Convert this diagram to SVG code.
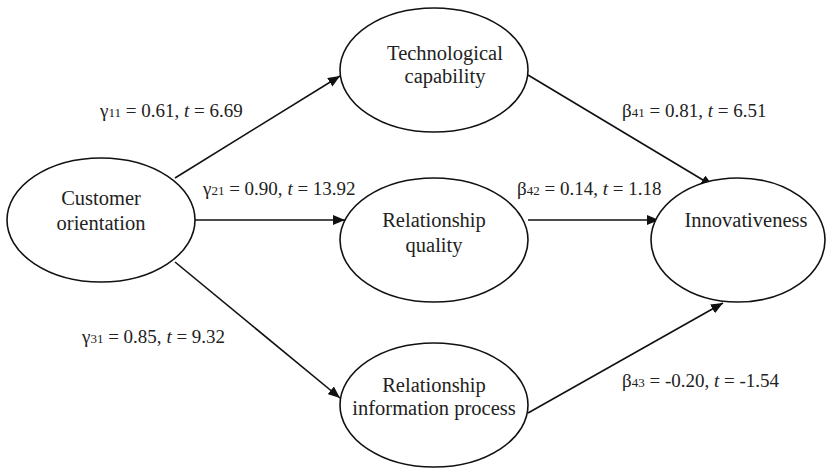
<svg xmlns="http://www.w3.org/2000/svg" width="831" height="470" viewBox="0 0 831 470">
<defs>
<style>
.n{fill:#fff;stroke:#111;stroke-width:1.6}
.t{font-family:"Liberation Serif","Times New Roman",serif;font-size:20.5px;fill:#222;text-anchor:middle}
.l{font-family:"Liberation Serif","Times New Roman",serif;font-size:19px;fill:#222}
.s{font-size:13px}
.c{stroke:#111;stroke-width:1.6;fill:none;marker-end:url(#ah)}
</style>
<marker id="ah" viewBox="0 0 12 10" refX="12" refY="5" markerWidth="12" markerHeight="10" markerUnits="userSpaceOnUse" orient="auto">
<path d="M0,0 L12,5 L0,10 Z" fill="#111"/>
</marker>
</defs>
<rect width="831" height="470" fill="#fff"/>
<g id="connectors">
<line class="c" x1="175" y1="178" x2="340" y2="76"/>
<line class="c" x1="195" y1="220" x2="345" y2="220"/>
<line class="c" x1="175" y1="262" x2="340" y2="398"/>
<line class="c" x1="528" y1="75" x2="713" y2="186"/>
<line class="c" x1="528" y1="220" x2="659" y2="220"/>
<line class="c" x1="528" y1="413" x2="723" y2="303"/>
</g>
<g id="customer-orientation">
<ellipse class="n" cx="101" cy="220" rx="94" ry="62"/>
<text class="t" x="101" y="205">Customer</text>
<text class="t" x="101" y="230">orientation</text>
</g>
<g id="technological-capability">
<ellipse class="n" cx="434" cy="70" rx="94" ry="62"/>
<text class="t" x="445" y="60">Technological</text>
<text class="t" x="445" y="83">capability</text>
</g>
<g id="relationship-quality">
<ellipse class="n" cx="434" cy="240" rx="94" ry="62"/>
<text class="t" x="434" y="227">Relationship</text>
<text class="t" x="434" y="252">quality</text>
</g>
<g id="relationship-information-process">
<ellipse class="n" cx="434" cy="405" rx="94" ry="62"/>
<text class="t" x="434" y="392">Relationship</text>
<text class="t" x="434" y="415">information process</text>
</g>
<g id="innovativeness">
<ellipse class="n" cx="738" cy="240" rx="87" ry="62"/>
<text class="t" x="746" y="227">Innovativeness</text>
</g>
<g id="labels">
<text class="l" x="100" y="117">γ<tspan class="s">11</tspan> = 0.61, <tspan font-style="italic">t</tspan> = 6.69</text>
<text class="l" x="203" y="195">γ<tspan class="s">21</tspan> = 0.90, <tspan font-style="italic">t</tspan> = 13.92</text>
<text class="l" x="82" y="343">γ<tspan class="s">31</tspan> = 0.85, <tspan font-style="italic">t</tspan> = 9.32</text>
<text class="l" x="622" y="117">β<tspan class="s">41</tspan> = 0.81, <tspan font-style="italic">t</tspan> = 6.51</text>
<text class="l" x="517" y="195">β<tspan class="s">42</tspan> = 0.14, <tspan font-style="italic">t</tspan> = 1.18</text>
<text class="l" x="622" y="387">β<tspan class="s">43</tspan> = -0.20, <tspan font-style="italic">t</tspan> = -1.54</text>
</g>
</svg>
